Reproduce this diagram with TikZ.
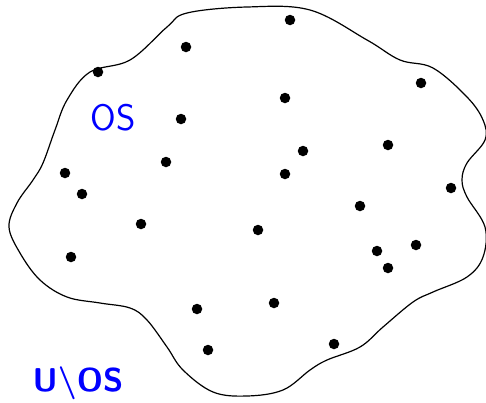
\documentclass[tikz,border=0pt]{standalone}
\usepackage{xcolor}
\usepackage{tikz}
\usetikzlibrary{positioning,calc}
\definecolor{SetBlue}{HTML}{0000FF}
\definecolor{DotBlack}{HTML}{000000}
\tikzset{
  elem/.style={circle, fill=DotBlack, inner sep=0pt, minimum size=10.5pt},
  setlabel/.style={text=SetBlue, font=\sffamily, inner sep=0pt}
}
\begin{document}
\begin{tikzpicture}[x=1pt, y=-1pt]
        \useasboundingbox (0,0) rectangle (486,402);
        % outline of the set
        \draw[line width=1.2pt, line join=round] plot[smooth cycle, tension=0.6] coordinates {
          (9,227) (17,203) (33,180) (43,163) (55,130) (67,100) (90,72)
          (130,60) (167,27) (187,13) (247,7) (310,10) (367,40) (400,60)
          (433,68) (467,97) (483,120) (485,140) (467,163) (462,180)
          (467,197) (485,227) (483,257) (467,277) (433,292) (413,302)
          (383,327) (360,347) (327,360) (310,370) (283,390) (247,396)
          (213,392) (183,370) (167,347) (147,320) (130,308) (100,303)
          (67,297) (40,280) (20,253)};
        % elements
        \foreach \px/\py [count=\i] in {290/20, 186/47, 98/72, 421/83, 285/98,
            181/119, 166/162, 303/151, 388/145, 285/174, 65/173, 82/194,
            451/188, 141/224, 258/230, 360/206, 71/257, 377/251, 416/245,
            388/268, 197/309, 274/303, 208/350, 334/344}
          \node[elem] (e\i) at (\px,\py) {};
        \node[setlabel, font=\sffamily\fontsize{37}{37}\selectfont] (os) at (113,118) {OS};
        \node[setlabel, font=\sffamily\bfseries\fontsize{33}{33}\selectfont] (uos) at (78,383) {U\textbackslash OS};
      \end{tikzpicture}
\end{document}
